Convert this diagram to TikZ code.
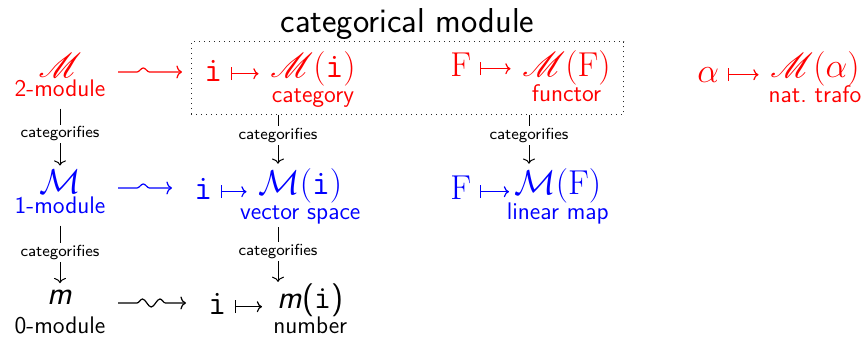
\documentclass[tikz,border=0pt]{standalone}
\usepackage{amsmath,amssymb}
\usepackage{mathrsfs}
\usepackage{xcolor}
\usepackage{tikz}
\usetikzlibrary{calc,arrows,arrows.meta,positioning,fit,decorations.pathmorphing}
\definecolor{cTwo}{RGB}{255,0,0}
\definecolor{cOne}{RGB}{0,0,255}
\definecolor{cBox}{RGB}{40,40,40}
\newcommand{\mathsize}{\fontsize{16.5}{19}\selectfont}

\begin{document}
\begin{tikzpicture}[x=0.5pt,y=-0.5pt,
    sym/.style={font=\mathsize,inner sep=1pt,anchor=base},
    dom/.style={font=\mathsize,inner sep=1pt,anchor=base west,text height=12.4pt,text depth=4.1pt},
    img/.style={font=\mathsize,inner sep=1pt,anchor=base west},
    lbl/.style={font=\large\sffamily,inner sep=1pt,anchor=base},
    under/.style={lbl,yshift=-12.5pt},
    catarrow/.style={-{To[length=2.6pt,width=6pt]},line width=0.5pt},
    catlbl/.style={font=\footnotesize\sffamily,fill=white,inner sep=1pt},
    mapsto/.style={{Bar[width=6.5pt]}-{To[length=2.6pt,width=5.5pt]},line width=0.6pt,
      shorten <=3.25pt,shorten >=4.75pt},
    squig/.style={-{To[length=2.8pt,width=6.5pt]},line width=0.6pt,decorate,shorten >=10pt,
      decoration={snake,amplitude=2pt,segment length=10pt,pre length=9.5pt}}]
  \useasboundingbox (0,0) rectangle (866,340);
  % left column: the modules
  \node[sym,cTwo] (m2s) at (60,78) {$\mathscr{M}$};
  \node[lbl,cTwo] (m2l) at (60,97) {2-module};
  \node[sym,cOne] (m1s) at (60,194) {$\mathcal{M}$};
  \node[lbl,cOne] (m1l) at (60,214) {1-module};
  \node[sym] (m0s) at (60,305) {\sffamily\itshape m};
  \node[lbl] (m0l) at (60,334) {0-module};
  % row 2-module
  \node[dom,cTwo] (iR) at (202,82) {$\mathtt{i}$};
  \node[img,cTwo] (MiR) at (268,78) {$\mathscr{M}(\mathtt{i})$};
  \node[under,cTwo] (catR) at (MiR.base) {category};
  \node[dom,cTwo] (FR) at (448,77) {$\mathrm{F}$};
  \node[img,cTwo] (MFR) at (520,77) {$\mathscr{M}(\mathrm{F})$};
  \node[under,cTwo] (funR) at (MFR.base) {functor};
  \node[dom,cTwo] (aR) at (695,83) {$\alpha$};
  \node[img,cTwo] (MaR) at (768,78) {$\mathscr{M}(\alpha)$};
  \node[under,cTwo] (natR) at (MaR.base) {nat.\ trafo};
  % row 1-module
  \node[dom,cOne] (iB) at (192,200) {$\mathtt{i}$};
  \node[img,cOne] (MiB) at (256,195) {$\mathcal{M}(\mathtt{i})$};
  \node[under,cOne] (vsB) at (MiB.base) {vector space};
  \node[dom,cOne] (FB) at (448,200) {$\mathrm{F}$};
  \node[img,cOne] (MFB) at (512,195) {$\mathcal{M}(\mathrm{F})$};
  \node[under,cOne] (linB) at (MFB.base) {linear map};
  % row 0-module
  \node[dom] (i0) at (206,315) {$\mathtt{i}$};
  \node[img] (mi0) at (275,309) {\sffamily\textit{m}(\texttt{i})};
  \node[under] (num0) at (mi0.base) {number};
  % categorical module
  \node[draw=cBox,dotted,line width=0.5pt,inner xsep=5.5pt,inner ysep=2.75pt,yshift=0.75pt,
    fit=(iR)(MiR)(catR)(FR)(MFR)(funR)] (box) {};
  \node[font=\LARGE\sffamily,anchor=base,yshift=4.5pt] (ttl) at (box.north) {categorical module};
  % wavy arrows
  \coordinate (w2) at (118,72);
  \coordinate (w1) at (118,188);
  \coordinate (w0) at (118,303);
  \draw[squig,cTwo,decoration={post length=22pt}] (w2) -- (w2 -| iR.west);
  \draw[squig,cOne,decoration={post length=17pt}] (w1) -- (w1 -| iB.west);
  \draw[squig,decoration={segment length=8.75pt,post length=16.5pt}] (w0) -- (w0 -| i0.west);
  % maps to
  \draw[mapsto,cTwo] (iR) -- (iR -| MiR.west);
  \draw[mapsto,cTwo] (FR) -- (FR -| MFR.west);
  \draw[mapsto,cTwo] (aR) -- (aR -| MaR.west);
  \draw[mapsto,cOne] (iB) -- (iB -| MiB.west);
  \draw[mapsto,cOne,shorten >=1.5pt] (FB) -- (FB -| MFB.west);
  \draw[mapsto,shorten >=6.5pt] (i0) -- (i0 -| mi0.west);
  % categorifies
  \coordinate (c2) at (278,0);
  \coordinate (c3) at (529,0);
  \draw[catarrow,shorten <=4.5pt,shorten >=1.2pt] (m2l) -- node[catlbl] {categorifies} (m1s);
  \draw[catarrow,shorten <=4.5pt,shorten >=2.5pt] (m1l) -- node[catlbl] {categorifies} (m0s);
  \draw[catarrow,shorten >=1.5pt] (box.south -| c2) -- node[catlbl,pos=0.4] {categorifies} (MiB.north -| c2);
  \draw[catarrow] (vsB.south -| c2) -- node[catlbl,pos=0.45] {categorifies} (mi0.north -| c2);
  \draw[catarrow,shorten >=1.5pt] (box.south -| c3) -- node[catlbl,pos=0.4] {categorifies} (MFB.north -| c3);
\end{tikzpicture}
\end{document}
